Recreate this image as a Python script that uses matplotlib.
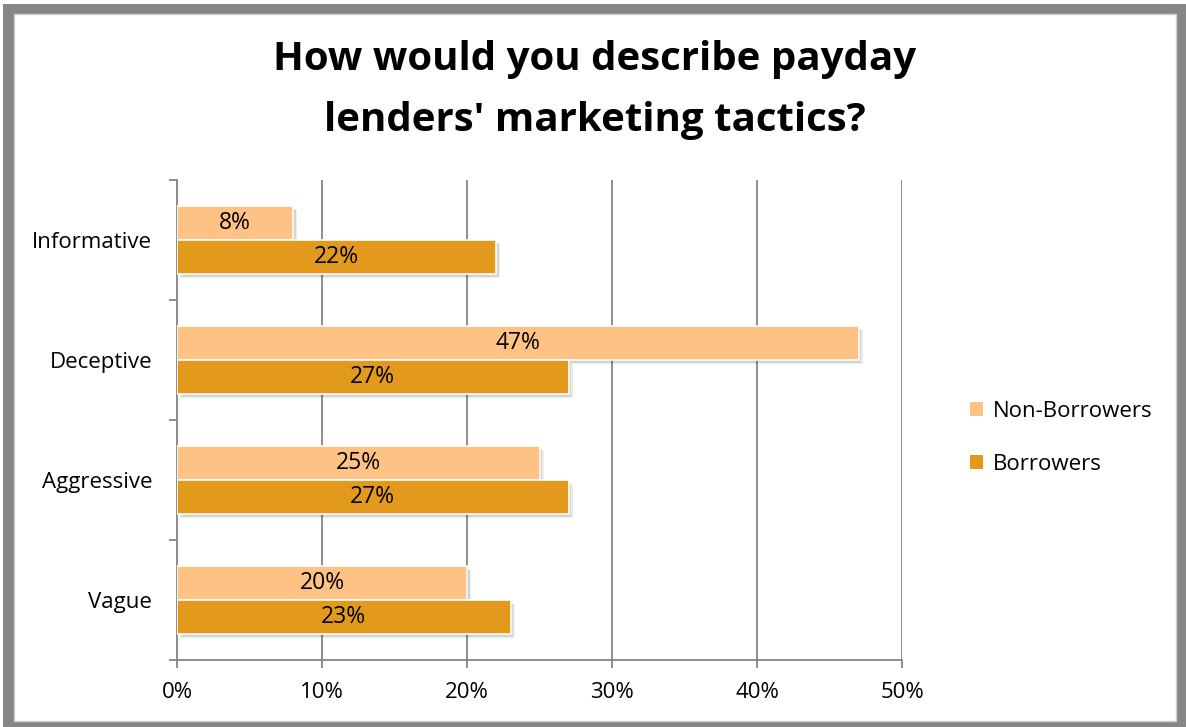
import matplotlib
matplotlib.use("Agg")
import matplotlib.pyplot as plt
import matplotlib.patheffects as pe
from matplotlib.patches import Rectangle
from matplotlib.ticker import FixedLocator, PercentFormatter

plt.rcParams['font.family'] = ['Open Sans', 'DejaVu Sans']

categories = ["Informative", "Deceptive", "Aggressive", "Vague"]
non_borrowers = [8, 47, 25, 20]
borrowers = [22, 27, 27, 23]
series_names = ["Non-Borrowers", "Borrowers"]
x_ticks = [0, 10, 20, 30, 40, 50]
title_lines = ["How would you describe payday", "lenders' marketing tactics?"]

light = "#FFC285"
dark = "#E39A1C"
grey = "#868686"

W, H = 1186, 727
fig = plt.figure(figsize=(W / 100, H / 100), dpi=100)

# Thick grey frame around the chart
fig.patches.append(Rectangle((3 / W, -0.1), 1.2, 1.1 - 4 / H,
                             transform=fig.transFigure, facecolor=grey,
                             edgecolor="none", zorder=-3))
fig.patches.append(Rectangle((14 / W, 6 / H), (1176 - 14) / W, (721 - 14) / H,
                             transform=fig.transFigure, facecolor="white",
                             edgecolor="#D0D0D0", linewidth=1, zorder=-2))

ax = fig.add_axes([177 / W, 1 - 660 / H, (902 - 177) / W, (660 - 180) / H])
ax.set_facecolor("none")

n = len(categories)
pos = [n - 1 - i for i in range(n)]
h = 0.283

# Soft drop shadow under each bar
shadow = [pe.SimplePatchShadow(offset=(3, -3), shadow_rgbFace="#000000", alpha=0.07),
          pe.SimplePatchShadow(offset=(2, -2), shadow_rgbFace="#000000", alpha=0.10),
          pe.SimplePatchShadow(offset=(1, -1), shadow_rgbFace="#000000", alpha=0.10),
          pe.Normal()]

b1 = ax.barh([p + h / 2 for p in pos], non_borrowers, height=h, color=light,
             edgecolor="white", linewidth=1.2, label=series_names[0], zorder=3)
b2 = ax.barh([p - h / 2 for p in pos], borrowers, height=h, color=dark,
             edgecolor="white", linewidth=1.2, label=series_names[1], zorder=3)
for bar in list(b1) + list(b2):
    bar.set_path_effects(shadow)

for bars, vals in ((b1, non_borrowers), (b2, borrowers)):
    for bar, v in zip(bars, vals):
        ax.text(v / 2, bar.get_y() + bar.get_height() / 2, f"{v}%",
                ha="center", va="center", fontsize=16.5, color="black", zorder=4)

ax.set_xlim(0, 50)
ax.set_ylim(-0.5, n - 0.5)
ax.xaxis.set_major_locator(FixedLocator(x_ticks))
ax.xaxis.set_major_formatter(PercentFormatter(decimals=0))
ax.grid(axis="x", color=grey, linewidth=1.3, zorder=0)
ax.set_axisbelow(True)

ax.set_yticks(pos)
ax.set_yticklabels(categories)
ax.yaxis.set_minor_locator(FixedLocator([i - 0.5 for i in range(n + 1)]))
ax.tick_params(axis="y", which="major", length=0, pad=18, labelsize=16)
ax.tick_params(axis="y", which="minor", length=6, width=1.3, color=grey, direction="out")
ax.tick_params(axis="x", length=5.5, width=1.3, color=grey, direction="out", pad=10, labelsize=16)

for side in ("top", "right"):
    ax.spines[side].set_visible(False)
for side in ("left", "bottom"):
    ax.spines[side].set_color(grey)
    ax.spines[side].set_linewidth(1.3)

for line, base in zip(title_lines, (70, 131)):
    fig.text(595 / W, 1 - base / H, line, ha="center", va="baseline",
             fontsize=29, fontweight="bold")

leg = fig.legend(handles=[b1, b2], labels=series_names,
                 loc="center left", bbox_to_anchor=(950 / W, 1 - 438 / H),
                 frameon=False, fontsize=16, handlelength=0.6, handleheight=0.6,
                 handletextpad=0.45, labelspacing=1.45)
for hnd in leg.legend_handles:
    hnd.set_path_effects([])
    hnd.set_edgecolor("none")

fig.savefig("out.png", dpi=100)
